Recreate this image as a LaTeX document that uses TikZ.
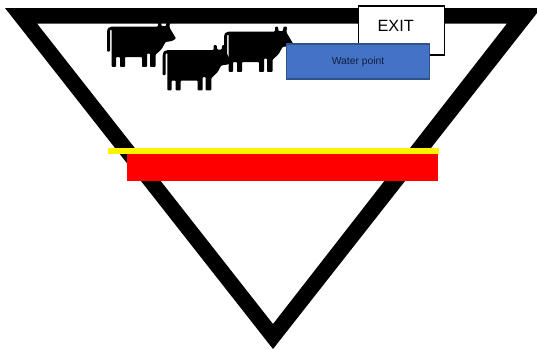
\documentclass[tikz,border=0pt]{standalone}
\usepackage{xcolor}
\usepackage{fontspec}
\setmainfont{Liberation Sans}
\usetikzlibrary{positioning}
\definecolor{waterblue}{HTML}{4472C4}
\definecolor{waterline}{HTML}{2F528F}
\definecolor{watertext}{HTML}{0F1F3F}

\tikzset{
  cow/.pic={
    \fill[black, rounded corners=0.8pt]
      (0,30) -- (0,10) -- (1,6.5) -- (5,5) -- (51,5) -- (51,0.2) -- (54,0.2) -- (54.5,4.5)
      -- (59,4.5) -- (59.5,0.2) -- (63,0.2) -- (62.5,6) -- (69,17) -- (65,19.5) -- (58.5,20.5)
      -- (55,27) -- (51,31) -- (48.7,33) -- (48.7,45.3) -- (43,45.3) -- (43,32) -- (40,32)
      -- (40,45.3) -- (35,45.3) -- (35,35.5) -- (18,35.5) -- (18,45.3) -- (13,45.3) -- (13,35.5)
      -- (9,35.5) -- (9,45.3) -- (4.7,45.3) -- (4.7,8) -- (3,8.5) -- (3,30) -- cycle;
  },
  exitbox/.style={draw=black, line width=1.3pt, fill=white, minimum width=86pt, minimum height=49pt, inner sep=0pt},
  exitlabel/.style={font=\fontsize{16.3}{18}\selectfont, inner sep=0pt},
  waterbox/.style={draw=waterline, line width=1.8pt, fill=waterblue, minimum width=143pt, minimum height=35.5pt,
    inner sep=0pt, text=watertext, font=\fontsize{10.3}{12}\selectfont},
  yellowbar/.style={fill=yellow, minimum width=331.5pt, minimum height=5.7pt, inner sep=0pt},
  redbar/.style={fill=red, minimum width=310.5pt, minimum height=26.7pt, inner sep=0pt}
}

\begin{document}
\begin{tikzpicture}[x=1pt, y=-1pt]
  \useasboundingbox (0,0) rectangle (537,349);
  \clip (0,0) rectangle (537,349);
  % cows
  \foreach \cowx/\cowy in {107/21.5, 224/26.5, 162.7/45}
    \pic at (\cowx,\cowy) {cow};
  % pen
  \fill[black, even odd rule] (5,8) -- (541,8) -- (273,349) -- cycle
    (37,23.5) -- (507,23.5) -- (273,324) -- cycle;
  \node[exitbox] (exit) at (401.5,30.5) {};
  \node[exitlabel] (exittext) at (395.7,25.5) {EXIT};
  \node[waterbox] (water) at (358,61.5) {Water point};
  \node[yellowbar] (fence) at (273.3,151.2) {};
  \node[redbar] (trough) at (282.5,167.7) {};
\end{tikzpicture}
\end{document}
